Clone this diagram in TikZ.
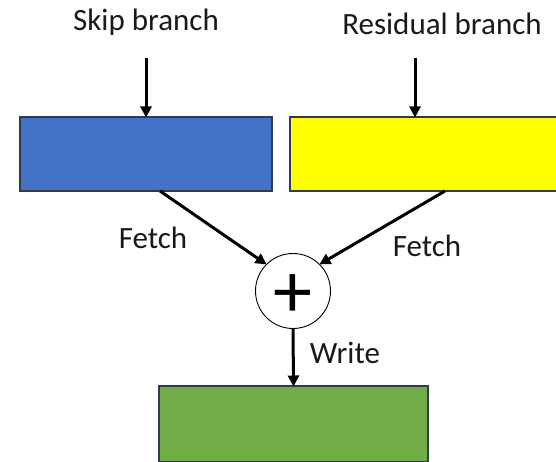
\documentclass[tikz,border=0pt]{standalone}
\usepackage{fontspec}
\setmainfont{Carlito}
\usetikzlibrary{arrows.meta,positioning}
\definecolor{skipblue}{HTML}{4472C4}
\definecolor{resyellow}{HTML}{FFFF00}
\definecolor{outgreen}{HTML}{70AD47}
\definecolor{edgedark}{HTML}{2F3B4F}
\tikzset{
  block/.style={draw=edgedark, line width=1.4pt, minimum height=74pt, inner sep=0pt, outer sep=0pt},
  lbl/.style={font=\fontsize{31}{34}\selectfont, text=black!90, inner sep=0pt},
  flow/.style={line width=3pt, -{Triangle[length=11pt,width=11pt]}, shorten >=-0.5pt},
  adder/.style={circle, draw=black, line width=0.9pt, minimum size=75pt, inner sep=0pt, fill=white}
}
\begin{document}
\begin{tikzpicture}[x=1pt,y=-1pt]
\useasboundingbox (0,0) rectangle (556,462);
\node[lbl] (skiptxt) at (146,22) {Skip branch};
\node[lbl] (restxt) at (442,24) {Residual branch};
\node[block, fill=skipblue, minimum width=252pt] (skip) at (146,154) {};
\node[block, fill=resyellow, minimum width=270pt] (res) at (425,154) {};
\node[adder] (add) at (293,291) {};
\node[font=\fontsize{78}{80}\selectfont, inner sep=0pt] (plus) at (293,296) {+};
\node[block, fill=outgreen, minimum width=269pt, minimum height=76pt] (out) at (293.5,424) {};
\coordinate (skipin) at (146,58);
\coordinate (resin) at (415,58);
\draw[flow] (skipin) -- (skip.north -| skipin);
\draw[flow] (resin) -- (res.north -| resin);
\coordinate (skipout) at (160,191);
\coordinate (resout) at (445,191);
\draw[flow] (skipout) -- (add.135);
\draw[flow] (resout) -- (add.45);
\draw[flow] (add.south) -- (out.north);
\node[lbl] (fetchl) at (153,238) {Fetch};
\node[lbl] (fetchr) at (427,246) {Fetch};
\node[lbl] (write) at (345,353) {Write};
\end{tikzpicture}
\end{document}
